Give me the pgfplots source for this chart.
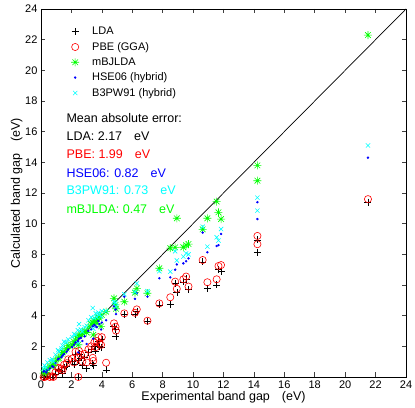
\documentclass[border=0pt]{standalone}
\usepackage{pgfplots}
\pgfplotsset{compat=1.18}
\usepackage{pgfplotstable}
\usepackage{fontspec}
\setmainfont{Liberation Sans}
\usetikzlibrary{calc}
\definecolor{mgreen}{rgb}{0,1,0}
\definecolor{mcyan}{rgb}{0,1,1}
\definecolor{mblue}{rgb}{0,0,1}
\definecolor{mred}{rgb}{1,0,0}

\pgfdeclareplotmark{mstar}{%
  \pgfpathmoveto{\pgfpoint{-\pgfplotmarksize}{0pt}}\pgfpathlineto{\pgfpoint{\pgfplotmarksize}{0pt}}%
  \pgfpathmoveto{\pgfpoint{0pt}{-\pgfplotmarksize}}\pgfpathlineto{\pgfpoint{0pt}{\pgfplotmarksize}}%
  \pgfpathmoveto{\pgfpoint{-.707\pgfplotmarksize}{-.707\pgfplotmarksize}}\pgfpathlineto{\pgfpoint{.707\pgfplotmarksize}{.707\pgfplotmarksize}}%
  \pgfpathmoveto{\pgfpoint{-.707\pgfplotmarksize}{.707\pgfplotmarksize}}\pgfpathlineto{\pgfpoint{.707\pgfplotmarksize}{-.707\pgfplotmarksize}}%
  \pgfusepathqstroke}

\pgfplotstableread{
E      LDA    PBE    mBJ    HSE    B3PW
0.17   0.00   0.00   0.25   0.35   0.55
0.24   0.00   0.00   0.45   0.40   0.75
0.35   0.00   0.05   0.30   0.30   0.60
0.42   0.05   0.10   0.55   0.45   0.95
0.58   0.00   0.00   0.70   0.55   1.10
0.74   0.00   0.05   0.85   0.70   1.15
0.81   0.00   0.00   0.75   0.65   1.00
0.95   0.15   0.30   1.05   0.90   1.45
1.12   0.50   0.60   1.20   1.15   1.75
1.17   0.45   0.55   1.25   1.20   1.65
1.35   0.40   0.55   1.50   1.30   1.85
1.42   0.25   0.45   1.60   1.40   2.05
1.52   0.60   0.80   1.70   1.50   2.30
1.69   0.70   0.90   1.85   1.65   2.25
1.79   1.05   1.15   2.05   1.80   2.45
2.05   1.00   1.20   2.10   1.95   2.60
2.17   0.80   0.95   2.30   2.10   2.80
2.27   1.45   1.65   2.40   2.25   2.75
2.42   1.10   1.25   2.65   2.35   3.05
2.45   0.00   0.00   2.10   1.60   2.20
2.50   1.50   1.70   2.70   2.50   3.45
2.62   1.25   1.45   2.80   2.55   3.10
2.72   0.75   1.00   2.85   2.35   2.95
2.87   1.30   1.50   3.00   2.65   3.25
3.00   0.55   0.95   2.90   2.15   3.35
3.12   1.60   1.80   3.25   3.00   3.70
3.30   1.80   2.00   3.45   3.10   3.90
3.40   0.90   1.25   3.55   3.30   4.50
3.44   0.75   1.05   2.75   2.50   3.15
3.50   2.00   2.25   3.65   3.40   3.85
3.60   1.70   1.95   3.75   3.30   4.15
3.67   2.15   2.35   3.50   3.25   3.90
3.77   2.30   2.60   3.90   3.65   4.20
3.84   2.00   2.20   3.85   3.45   4.05
3.95   1.95   2.10   3.30   3.10   3.95
4.00   2.45   2.60   4.05   3.55   4.30
4.28   0.46   0.93   4.26   3.70   4.30
4.80   3.28   3.50   5.13   4.60   4.90
4.93   2.63   3.02   4.45   4.10   4.60
4.90   3.10   3.28   4.70   4.40   4.85
5.48   4.10   4.15   4.91   5.24   5.40
6.18   4.10   4.19   5.50   5.10   5.55
6.30   4.30   4.41   5.78   5.46   6.10
7.00   3.60   3.67   5.46   5.24   5.60
7.78   4.70   4.80   7.09   6.44   6.90
8.50   4.76   5.20   8.40   6.50   6.87
8.82   6.10   6.22   8.45   7.00   8.20
8.93   5.50   5.75   10.35  7.34   7.60
9.36   6.20   6.37   8.46   7.41   7.85
9.54   6.40   6.55   8.60   7.55   8.06
9.70   5.70   5.90   8.67   7.74   8.00
10.63  7.50   7.63   9.63   9.42   9.80
10.94  5.78   6.18   10.35  8.13   8.50
11.55  6.00   6.37   11.44  8.54   9.11
11.67  7.00   7.24   10.74  8.60   8.90
11.84  6.87   7.30   10.30  9.33   9.65
14.23  8.13   8.66   12.80  10.30  10.85
14.23  8.94   9.20   13.80  11.40  11.70
21.50  11.40  11.60  22.30  14.30  15.10
}\gaps

\begin{document}
\begin{tikzpicture}
\begin{axis}[
  width=365pt, height=368pt, scale only axis,
  xmin=0, xmax=24, ymin=0, ymax=24,
  xtick={0,2,...,24}, ytick={0,2,...,24},
  tick align=inside, major tick length=4.5pt,
  tick style={line width=0.6pt, black!75},
  axis line style={line width=0.8pt},
  /pgf/number format/assume math mode=true,
  ticklabel style={font=\fontsize{11}{11}\selectfont},
  xlabel={Experimental band gap\hspace{12pt}(eV)},
  ylabel={Calculated band gap\hspace{12pt}(eV)},
  label style={font=\fontsize{12.5}{12.5}\selectfont},
  xlabel style={yshift=4pt},
  ylabel style={yshift=-4pt},
  clip=false,
  legend cell align=left,
  legend style={at={(rel axis cs:0,1)}, anchor=north west, xshift=27pt, yshift=-13pt,
    draw=none, fill=none, font=\fontsize{11}{11}\selectfont,
    nodes={inner ysep=3pt}},
]
\addplot[only marks, mark=+, black, mark size=3.5pt, line width=0.6pt] table[x=E,y=LDA]{\gaps};
\addlegendentry{\hspace{11pt}LDA}
\addplot[only marks, mark=o, mred, mark size=3.6pt, line width=0.6pt] table[x=E,y=PBE]{\gaps};
\addlegendentry{\hspace{11pt}PBE (GGA)}
\addplot[only marks, mark=mstar, mgreen, mark size=4pt, line width=0.6pt] table[x=E,y=mBJ]{\gaps};
\addlegendentry{\hspace{11pt}mBJLDA}
\addplot[only marks, mark=*, mblue, mark size=1pt] table[x=E,y=HSE]{\gaps};
\addlegendentry{\hspace{11pt}HSE06 (hybrid)}
\addplot[only marks, mark=x, mcyan, mark size=3pt, line width=0.6pt] table[x=E,y=B3PW]{\gaps};
\addlegendentry{\hspace{11pt}B3PW91 (hybrid)}
\addplot[black, line width=0.7pt, forget plot] coordinates {(0,0) (24,24)};
\node[anchor=west, font=\fontsize{12.5}{12.5}\selectfont] at (axis cs:1.45,16.9) {Mean absolute error:};
\node[anchor=west, font=\fontsize{12.5}{12.5}\selectfont] at (axis cs:1.45,15.72) {LDA: 2.17\hspace{12pt}eV};
\node[anchor=west, font=\fontsize{12.5}{12.5}\selectfont, text=mred] at (axis cs:1.45,14.53) {PBE: 1.99\hspace{12pt}eV};
\node[anchor=west, font=\fontsize{12.5}{12.5}\selectfont, text=mblue] at (axis cs:1.45,13.32) {HSE06: 0.82\hspace{12pt}eV};
\node[anchor=west, font=\fontsize{12.5}{12.5}\selectfont, text=mcyan] at (axis cs:1.45,12.15) {B3PW91: 0.73\hspace{12pt}eV};
\node[anchor=west, font=\fontsize{12.5}{12.5}\selectfont, text=mgreen] at (axis cs:1.45,10.95) {mBJLDA: 0.47\hspace{12pt}eV};
\coordinate (sw) at (rel axis cs:0,0);
\coordinate (ne) at (rel axis cs:1,1);
\end{axis}
\pgfresetboundingbox
\path[use as bounding box] ($(sw)+(-41pt,-31pt)$) rectangle ($(ne)+(9pt,9pt)$);
\end{tikzpicture}
\end{document}
